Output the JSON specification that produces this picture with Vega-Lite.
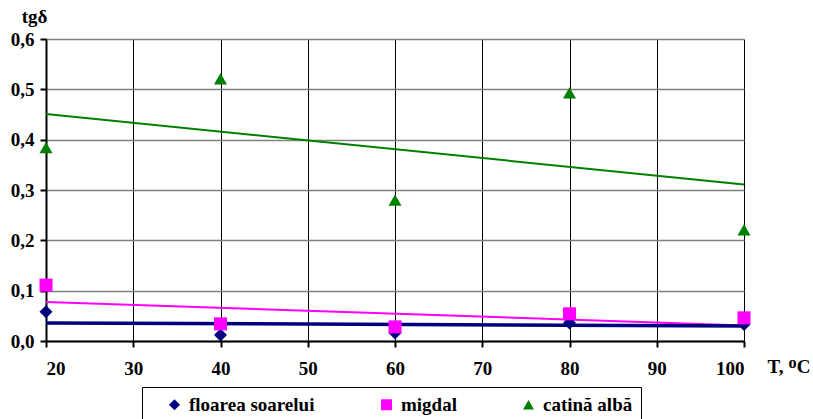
{
  "$schema": "https://vega.github.io/schema/vega-lite/v6.json",
  "width": 698,
  "height": 302,
  "autosize": {"type": "none"},
  "padding": {"left": 46, "top": 39, "right": 69, "bottom": 78},
  "background": "white",
  "config": {
    "view": {"stroke": null},
    "font": "Liberation Serif",
    "axis": {
      "labelFont": "Liberation Serif",
      "labelFontWeight": "bold",
      "labelFontSize": 19,
      "labelColor": "black",
      "titleFont": "Liberation Serif",
      "titleFontWeight": "bold",
      "titleFontSize": 19,
      "titleColor": "black",
      "domainColor": "black",
      "domainWidth": 2,
      "tickColor": "black",
      "tickWidth": 2,
      "tickSize": 6
    },
    "legend": {
      "labelFont": "Liberation Serif",
      "titleFont": "Liberation Serif"
    }
  },
  "datasets": {
    "pts": [
      {"serie": "floarea soarelui", "T": 20, "tg": 0.058},
      {"serie": "floarea soarelui", "T": 40, "tg": 0.012},
      {"serie": "floarea soarelui", "T": 60, "tg": 0.016},
      {"serie": "floarea soarelui", "T": 80, "tg": 0.036},
      {"serie": "floarea soarelui", "T": 100, "tg": 0.033},
      {"serie": "migdal", "T": 20, "tg": 0.111},
      {"serie": "migdal", "T": 40, "tg": 0.034},
      {"serie": "migdal", "T": 60, "tg": 0.028},
      {"serie": "migdal", "T": 80, "tg": 0.054},
      {"serie": "migdal", "T": 100, "tg": 0.046},
      {"serie": "catină albă", "T": 20, "tg": 0.384},
      {"serie": "catină albă", "T": 40, "tg": 0.521},
      {"serie": "catină albă", "T": 60, "tg": 0.280},
      {"serie": "catină albă", "T": 80, "tg": 0.493},
      {"serie": "catină albă", "T": 100, "tg": 0.221}
    ],
    "trend": [
      {"serie": "floarea soarelui", "T": 20, "tg": 0.036},
      {"serie": "floarea soarelui", "T": 100, "tg": 0.030},
      {"serie": "migdal", "T": 20, "tg": 0.0775},
      {"serie": "migdal", "T": 100, "tg": 0.031},
      {"serie": "catină albă", "T": 20, "tg": 0.451},
      {"serie": "catină albă", "T": 100, "tg": 0.311}
    ]
  },
  "encoding": {
    "x": {
      "field": "T", "type": "quantitative",
      "scale": {"domain": [20, 100], "nice": false, "zero": false},
      "axis": {
        "values": [20, 30, 40, 50, 60, 70, 80, 90, 100],
        "grid": true, "gridColor": "black", "gridWidth": 1,
        "labelPadding": 12,
        "title": "T, ᴼC",
        "titleAlign": "left", "titleAnchor": "start",
        "titleX": 721, "titleY": 25, "titleBaseline": "middle",
        "titleAngle": 0
      }
    },
    "y": {
      "field": "tg", "type": "quantitative",
      "scale": {"domain": [0, 0.6], "nice": false},
      "axis": {
        "values": [0, 0.1, 0.2, 0.3, 0.4, 0.5, 0.6],
        "grid": true, "gridColor": "#808080", "gridWidth": 1.5,
        "labelExpr": "replace(format(datum.value, '.1f'), '.', ',')",
        "labelPadding": 6,
        "title": "tgδ",
        "titleAngle": 0, "titleAlign": "center", "titleBaseline": "middle",
        "titleX": -12, "titleY": -23
      }
    }
  },
  "layer": [
    {
      "data": {"name": "trend"},
      "transform": [{"filter": "datum.serie == 'catină albă'"}],
      "mark": {"type": "line", "color": "#008000", "strokeWidth": 2, "clip": true}
    },
    {
      "data": {"name": "trend"},
      "transform": [{"filter": "datum.serie == 'migdal'"}],
      "mark": {"type": "line", "color": "#FF00FF", "strokeWidth": 2, "clip": true}
    },
    {
      "data": {"name": "trend"},
      "transform": [{"filter": "datum.serie == 'floarea soarelui'"}],
      "mark": {"type": "line", "color": "#000080", "strokeWidth": 3.5, "clip": true}
    },
    {
      "data": {"name": "pts"},
      "mark": {"type": "point", "filled": true, "opacity": 1, "size": 170},
      "encoding": {
        "color": {
          "field": "serie", "type": "nominal",
          "scale": {"domain": ["floarea soarelui", "migdal", "catină albă"], "range": ["#000080", "#FF00FF", "#008000"]},
          "legend": {
            "orient": "none", "legendX": 96, "legendY": 348,
            "direction": "horizontal",
            "title": " ", "titleOrient": "left", "titlePadding": 15,
            "titleFontSize": 19,
            "strokeColor": "black", "padding": 8,
            "columnPadding": 62,
            "labelFontWeight": "bold",
            "labelFontSize": 19, "labelColor": "black", "labelOffset": 5,
            "labelExpr": "datum.label == 'catină albă' ? datum.label + '       ' : datum.label",
            "symbolSize": 120, "symbolStrokeWidth": 0, "labelLimit": 300
          }
        },
        "shape": {
          "field": "serie", "type": "nominal",
          "scale": {"domain": ["floarea soarelui", "migdal", "catină albă"], "range": ["diamond", "square", "triangle-up"]}
        }
      }
    }
  ]
}
